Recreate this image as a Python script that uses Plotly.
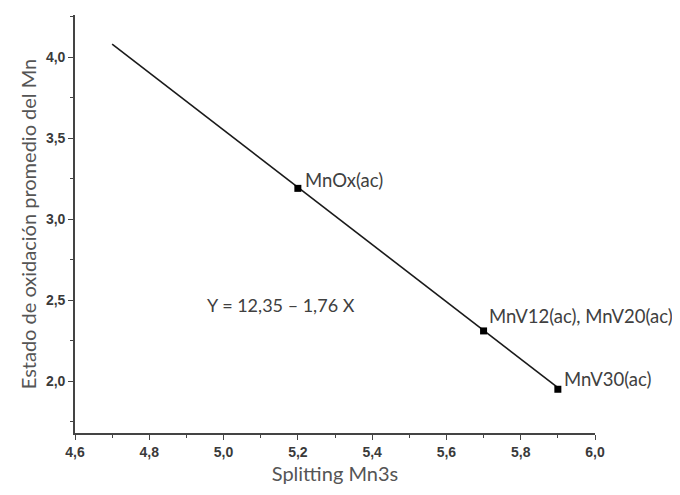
import plotly.graph_objects as go

# Data
fit_x = [4.7, 5.9]
fit_y = [4.08, 1.96]
pts_x = [5.2, 5.7, 5.9]
pts_y = [3.19, 2.31, 1.95]
pts_labels = ["MnOx(ac)", "MnV12(ac), MnV20(ac)", "MnV30(ac)"]
label_shift_x = [5, 3, 4]
label_shift_y = [8, 15, 10]
equation = "Y = 12,35 – 1,76 X"
eq_x, eq_y = 4.95, 2.47
x_title = "Splitting Mn3s"
y_title = "Estado de oxidación promedio del Mn"

fig = go.Figure()
fig.add_trace(go.Scatter(x=fit_x, y=fit_y, mode="lines",
                         line=dict(color="#1a1a1a", width=1.6),
                         showlegend=False, hoverinfo="skip"))
fig.add_trace(go.Scatter(x=pts_x, y=pts_y, mode="markers",
                         marker=dict(symbol="square", size=7, color="#000000"),
                         showlegend=False))

for x, y, t, sx, sy in zip(pts_x, pts_y, pts_labels, label_shift_x, label_shift_y):
    fig.add_annotation(x=x, y=y, text=t, showarrow=False, xanchor="left",
                       yanchor="middle", xshift=sx, yshift=sy,
                       font=dict(family="Lato", size=18.5, color="#404040"))

fig.add_annotation(x=eq_x, y=eq_y, text=equation, showarrow=False,
                   xanchor="left", yanchor="middle",
                   font=dict(family="Lato", size=18, color="#404040"))

axis_common = dict(showline=True, linecolor="#444444", linewidth=1.6,
                   ticks="outside", ticklen=5, tickwidth=1.4, tickcolor="#444444",
                   showgrid=False, zeroline=False, mirror=False, automargin=False,
                   tickfont=dict(family="Liberation Sans", size=14, color="#3a3a3a", weight="bold"),
                   tickformat=".1f")

fig.update_xaxes(range=[4.6, 6.0], tick0=4.6, dtick=0.2,
                 minor=dict(ticks="outside", ticklen=3, tickwidth=1.2, tickcolor="#444444", dtick=0.1),
                 title=dict(text=x_title, standoff=8,
                            font=dict(family="Lato", size=20, color="#555555")),
                 **axis_common)
fig.update_yaxes(range=[1.68, 4.26], tick0=2.0, dtick=0.5,
                 minor=dict(ticks="outside", ticklen=3, tickwidth=1.2, tickcolor="#444444", dtick=0.25),
                 title=dict(text=y_title, standoff=4,
                            font=dict(family="Lato", size=20, color="#555555")),
                 **axis_common)

fig.update_layout(width=672, height=487, separators=",.",
                  margin=dict(l=67, r=85, t=7, b=62),
                  plot_bgcolor="white", paper_bgcolor="white")

fig.write_html("out.html")
